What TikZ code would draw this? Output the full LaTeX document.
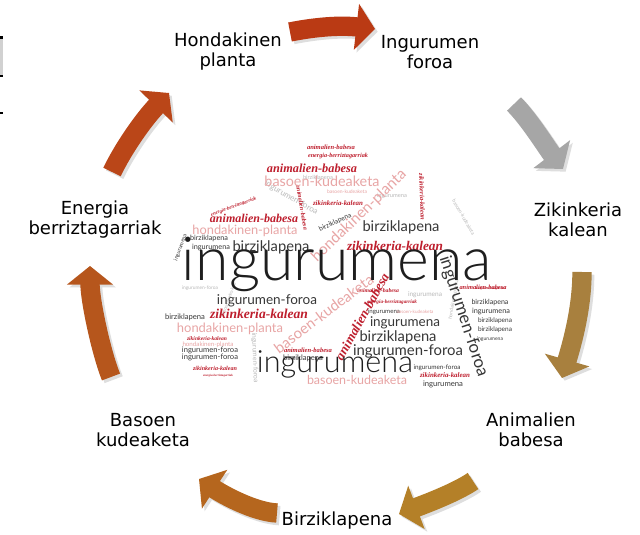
\documentclass[tikz,border=0pt]{standalone}
\usepackage{fontspec}
\usepackage{graphicx}
\setmainfont{DejaVu Sans}
\newfontfamily\cloudf{Lato}
\newfontfamily\cloudl{Lato Light}
\newfontfamily\scrf{Liberation Serif}
\usetikzlibrary{arrows.meta}
\definecolor{cblack}{RGB}{30,30,30}
\definecolor{cdark}{RGB}{55,55,55}
\definecolor{cred}{RGB}{190,30,45}
\definecolor{cpink}{RGB}{232,165,165}
\definecolor{clgrey}{RGB}{185,185,185}
\definecolor{ca1}{RGB}{186,58,20}
\definecolor{ca2}{RGB}{166,166,166}
\definecolor{ca3}{RGB}{168,128,62}
\definecolor{ca4}{RGB}{180,128,40}
\definecolor{ca5}{RGB}{181,102,30}
\definecolor{ca6}{RGB}{182,86,28}
\definecolor{ca7}{RGB}{186,70,24}
\newlength\pxu
\setlength\pxu{0.75pt}
\newcommand\scr{\scrf\bfseries\itshape}
% cloud word: name, position, colour, angle, width (px), font, text
\newcommand\cw[7]{\node[cwn, text=#3, rotate=#4] (#1) at (#2) {\resizebox{#5\pxu}{!}{#6#7}};}
% block arrow: tail, c1, c2, tip, colour
\newcommand\barrow[5]{%
  \draw[ashadow, transform canvas={shift={(2pt,-2pt)}}] (#1) .. controls (#2) and (#3) .. (#4);
  \draw[blockarr, #5] (#1) .. controls (#2) and (#3) .. (#4);}
\tikzset{
  lbl/.style={align=center, inner sep=1pt, font=\fontsize{13.5}{15}\selectfont, text=black},
  cwn/.style={inner sep=0pt, anchor=base},
  blockarr/.style={line width=14.5pt, -{Triangle[width=34pt,length=14pt]}},
  ashadow/.style={blockarr, draw=black!13, color=black!13},
}
\begin{document}
\begin{tikzpicture}[x=0.75pt,y=-0.75pt]
\useasboundingbox (0,0) rectangle (640,535);
\fill[white] (0,0) rectangle (640,535);
% left edge artefacts
\fill[black] (0,36) rectangle (3,39);
\fill[black!18] (0,39) rectangle (3,75);
\fill[black] (0,75) rectangle (3,77);
\fill[black] (0,112) rectangle (3,114);

% ---------- word cloud ----------
% faint background words
\cw{g1}{290,200}{clgrey}{-30}{60}{\cloudf}{ingurumen-foroa}
\cw{g2}{200,290}{clgrey}{0}{36}{\cloudf}{ingurumen-foroa}
\cw{g3}{318,180}{clgrey}{0}{30}{\cloudf}{birziklapena}
\cw{g4}{455,300}{clgrey}{80}{40}{\cloudf}{hondakinen-planta}
\cw{g5}{230,300}{clgrey}{70}{36}{\cloudf}{basoen-kudeaketa}
\cw{g6}{392,198}{clgrey}{0}{30}{\cloudf}{ingurumena}
\cw{g7}{462,218}{clgrey}{-60}{40}{\cloudf}{basoen-kudeaketa}
\cw{g8}{425,296}{clgrey}{0}{34}{\cloudf}{ingurumena}
% small words
\cw{s1}{331,150}{cred}{0}{48}{\scr}{animalien-babesa}
\cw{s2}{338,157}{cred}{0}{60}{\scr}{energia-berriztagarriak}
\cw{s3}{347,194}{cpink}{0}{40}{\cloudf}{basoen-kudeaketa}
\cw{s4}{338,206}{cred}{0}{50}{\scr}{zikinkeria-kalean}
\cw{s5}{209,241}{cdark}{0}{38}{\cloudf}{birziklapena}
\cw{s6}{211,249}{cdark}{0}{38}{\cloudf}{ingurumena}
\cw{s7}{234,208}{cred}{20}{48}{\scr}{energia-berriztagarriak}
\cw{s8}{185,320}{cdark}{0}{40}{\cloudf}{birziklapena}
\cw{s9}{207,340}{cred}{0}{40}{\scr}{zikinkeria-kalean}
\cw{s10}{208,346}{cpink}{0}{51}{\cloudf}{hondakinen-planta}
\cw{s11}{210,353}{cdark}{0}{56}{\cloudf}{ingurumen-foroa}
\cw{s12}{210,359}{cdark}{0}{56}{\cloudf}{ingurumen-foroa}
\cw{s13}{215,370}{cred}{0}{44}{\scr}{zikinkeria-kalean}
\cw{s14}{218,376}{cred}{0}{30}{\scr}{energia-berriztagarriak}
\cw{s15}{378,292}{cred}{0}{42}{\scr}{animalien-babesa}
\cw{s16}{392,303}{cred}{0}{50}{\scr}{energia-berriztagarriak}
\cw{s17}{384,313}{cdark}{0}{32}{\cloudf}{ingurumena}
\cw{s18}{415,314}{cpink}{0}{37}{\cloudf}{basoen-kudeaketa}
\cw{s19}{303,360}{cdark}{0}{40}{\cloudf}{birziklapena}
\cw{s20}{308,352}{cred}{0}{48}{\scr}{animalien-babesa}
\cw{s21}{437,369}{cdark}{0}{47}{\cloudf}{ingurumen-foroa}
\cw{s22}{445,377}{cred}{0}{50}{\scr}{zikinkeria-kalean}
\cw{s23}{443,386}{cdark}{0}{40}{\cloudf}{ingurumena}
\cw{s24}{483,289}{cred}{0}{47}{\scr}{animalien-babesa}
\cw{s25}{490,305}{cdark}{0}{37}{\cloudf}{birziklapena}
\cw{s26}{491,313}{cdark}{0}{38}{\cloudf}{ingurumena}
\cw{s27}{495,322}{cdark}{0}{34}{\cloudf}{birziklapena}
\cw{s28}{495,331}{cdark}{0}{34}{\cloudf}{birziklapena}
\cw{s29}{490,340}{cdark}{0}{26}{\cloudf}{ingurumena}
\cw{s30}{490,290}{cred}{0}{30}{\scr}{energia-berriztagarriak}
% rotated words
\cw{r1}{362,219}{cpink}{44}{125}{\cloudf}{hondakinen-planta}
\cw{r2}{459,318}{cdark}{-72}{126}{\cloudf}{ingurumen-foroa}
\cw{r3}{327,318}{cpink}{37}{120}{\cloudf}{basoen-kudeaketa}
\cw{r4}{366,319}{cred}{61}{97}{\scr}{animalien-babesa}
\cw{r5}{253,358}{clgrey}{-88}{50}{\cloudf}{ingurumen-foroa}
\cw{r6}{300,208}{cred}{-80}{45}{\scr}{animalien-babesa}
\cw{r7}{420,197}{cred}{-88}{47}{\scr}{zikinkeria-kalean}
\cw{r8}{336,224}{cdark}{25}{35}{\cloudf}{birziklapena}
\cw{r9}{182,248}{cdark}{70}{28}{\cloudf}{ingurumena}
% medium words
\cw{w3}{322,186}{cpink}{0}{115}{\cloudf}{basoen-kudeaketa}
\cw{w4}{312,173}{cred}{0}{90}{\scr}{animalien-babesa}
\cw{w5}{254,222}{cred}{0}{88}{\scr}{animalien-babesa}
\cw{w6}{245,234}{cpink}{0}{105}{\cloudf}{hondakinen-planta}
\cw{w7}{401,232}{cdark}{0}{77}{\cloudf}{birziklapena}
\cw{w8}{395,250}{cred}{0}{96}{\scr}{zikinkeria-kalean}
\cw{w9}{271,251}{cdark}{0}{77}{\cloudf}{birziklapena}
\cw{w10}{267,304}{cdark}{0}{100}{\cloudf}{ingurumen-foroa}
\cw{w11}{259,318}{cred}{0}{98}{\scr}{zikinkeria-kalean}
\cw{w12}{230,332}{cpink}{0}{106}{\cloudf}{hondakinen-planta}
\cw{w13}{405,326}{cdark}{0}{70}{\cloudf}{ingurumena}
\cw{w14}{398,341}{cdark}{0}{77}{\cloudf}{birziklapena}
\cw{w15}{408,355}{cdark}{0}{110}{\cloudf}{ingurumen-foroa}
\cw{w16}{357,384}{cpink}{0}{100}{\cloudf}{basoen-kudeaketa}
% big words
\cw{w1}{337,280}{cblack}{0}{310}{\cloudl}{ingurumena}
\cw{w2}{335,372}{cblack}{0}{156}{\cloudl}{ingurumena}

% ---------- labels ----------
\node[lbl] (hond) at (228,52) {Hondakinen\\planta};
\node[lbl] (ingf) at (430,52) {Ingurumen\\foroa};
\node[lbl] (zik) at (578,220) {Zikinkeria\\kalean};
\node[lbl] (anim) at (531,430) {Animalien\\babesa};
\node[lbl] (birz) at (337,521) {Birziklapena};
\node[lbl] (bas) at (143,430) {Basoen\\kudeaketa};
\node[lbl] (ener) at (95,220) {Energia\\berriztagarriak};

% ---------- arrows ----------
\coordinate (t1) at (290,32);  \coordinate (h1) at (375,29);
\coordinate (t2) at (514,104); \coordinate (h2) at (563,169);
\coordinate (t3) at (582,272); \coordinate (h3) at (562,378);
\coordinate (t4) at (473,481); \coordinate (h4) at (399,514);
\coordinate (t5) at (277,513); \coordinate (h5) at (199,479);
\coordinate (t6) at (111,377); \coordinate (h6) at (90,266);
\coordinate (t7) at (112,172); \coordinate (h7) at (169,93);
\barrow{t1}{315,27}{340,25}{h1}{ca1}
\barrow{t2}{529,119}{547,148}{h2}{ca2}
\barrow{t3}{582,312}{570,350}{h3}{ca3}
\barrow{t4}{457,492}{428,503}{h4}{ca4}
\barrow{t5}{255,512}{225,496}{h5}{ca5}
\barrow{t6}{101,352}{90,300}{h6}{ca6}
\barrow{t7}{123,149}{143,120}{h7}{ca7}
\end{tikzpicture}
\end{document}
